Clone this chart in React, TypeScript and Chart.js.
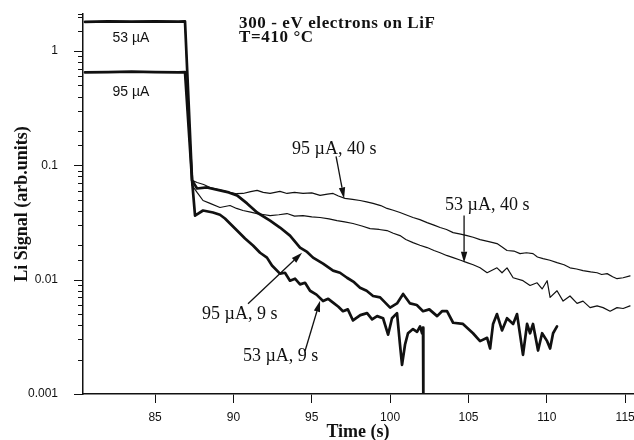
import React, { useEffect, useRef } from 'react';
import { Chart, registerables } from 'chart.js';
Chart.register(...registerables);

const xMin = 80.4;
const xMax = 115.5;
const yMin = 0.001;
const yMax = 2.11;
const xTickValues = [85, 90, 95, 100, 105, 110, 115];

// 53 µA, 9 s (thick)
const t53_9 = [80.53, 82.0, 83.5, 85.0, 86.5, 86.91, 87.36, 87.55, 88.06, 88.7, 89.14, 89.46, 89.78, 90.23, 90.74, 91.25, 91.7, 92.14, 92.46, 92.97, 93.29, 93.61, 93.93, 94.25, 94.57, 94.89, 95.3, 95.72, 96.05, 96.36, 96.7, 96.99, 97.3, 97.63, 98.1, 98.53, 98.85, 99.17, 99.55, 99.87, 100.12, 100.44, 100.63, 100.76, 100.95, 101.14, 101.46, 101.72, 101.91, 102.04, 102.1, 102.12];
const v53_9 = [1.80, 1.82, 1.81, 1.82, 1.81, 1.82, 0.074, 0.0364, 0.0403, 0.0387, 0.037, 0.0343, 0.031, 0.0269, 0.0229, 0.0199, 0.0172, 0.0156, 0.0133, 0.0113, 0.0115, 0.0098, 0.0102, 0.0091, 0.0094, 0.0080, 0.0074, 0.0065, 0.0068, 0.0063, 0.0058, 0.0053, 0.0055, 0.0044, 0.0049, 0.0051, 0.0045, 0.0048, 0.0046, 0.0033, 0.0046, 0.0051, 0.0027, 0.0018, 0.0027, 0.0034, 0.0037, 0.0035, 0.0039, 0.0034, 0.0038, 0.0008];

// 95 µA, 9 s (thick)
const t95_9 = [80.53, 82.0, 83.5, 85.0, 86.5, 86.91, 87.36, 87.68, 88.31, 89.14, 89.7, 90.23, 90.87, 91.51, 92.34, 92.97, 93.61, 94.25, 94.7, 95.08, 95.72, 96.36, 96.8, 97.25, 97.7, 98.08, 98.5, 98.91, 99.36, 100.0, 100.44, 100.83, 101.27, 101.7, 102.1, 102.5, 103.0, 103.31, 103.63, 104.02, 104.65, 105.29, 105.74, 106.19, 106.38, 106.57, 106.82, 107.14, 107.46, 107.85, 108.1, 108.48, 108.74, 108.93, 109.12, 109.44, 109.7, 110.02, 110.21, 110.4, 110.65];
const v95_9 = [0.65, 0.655, 0.66, 0.655, 0.65, 0.655, 0.0739, 0.0628, 0.0641, 0.0604, 0.058, 0.0546, 0.0465, 0.0387, 0.0329, 0.0286, 0.0243, 0.0191, 0.0175, 0.0156, 0.0138, 0.0120, 0.0115, 0.0104, 0.0095, 0.0085, 0.0080, 0.0072, 0.0070, 0.0057, 0.0062, 0.0075, 0.0062, 0.0060, 0.0053, 0.0055, 0.0048, 0.0053, 0.0053, 0.0042, 0.0041, 0.0034, 0.0029, 0.0031, 0.0025, 0.0041, 0.0050, 0.0036, 0.0046, 0.0041, 0.0050, 0.0022, 0.0041, 0.0034, 0.0041, 0.0024, 0.0034, 0.0029, 0.0025, 0.0034, 0.0039];

// 95 µA, 40 s (thin)
const t95_40 = [80.53, 82.0, 83.5, 85.0, 86.5, 86.91, 87.36, 87.68, 88.1, 88.51, 89.1, 89.78, 90.2, 90.61, 91.1, 91.51, 91.9, 92.34, 92.97, 93.42, 93.9, 94.44, 95.0, 95.53, 96.0, 96.36, 96.7, 97.12, 97.6, 98.08, 98.5, 98.91, 99.4, 99.8, 100.2, 100.63, 101.0, 101.46, 101.9, 102.36, 102.8, 103.19, 103.6, 104.02, 104.5, 104.91, 105.3, 105.74, 106.3, 106.82, 107.1, 107.46, 107.9, 108.29, 108.7, 109.12, 109.4, 109.76, 110.2, 110.65, 111.1, 111.48, 111.9, 112.31, 112.8, 113.21, 113.5, 113.85, 114.2, 114.48, 114.87, 115.31];
const v95_40 = [0.65, 0.655, 0.66, 0.655, 0.65, 0.655, 0.0739, 0.0709, 0.068, 0.0641, 0.061, 0.058, 0.0565, 0.0568, 0.059, 0.0604, 0.058, 0.0568, 0.0592, 0.0568, 0.058, 0.0568, 0.0575, 0.0546, 0.056, 0.0568, 0.054, 0.0514, 0.0505, 0.0493, 0.048, 0.0465, 0.0445, 0.0420, 0.0405, 0.0387, 0.037, 0.0350, 0.0335, 0.0316, 0.030, 0.0286, 0.0275, 0.0258, 0.025, 0.0243, 0.0235, 0.0224, 0.0215, 0.0207, 0.0195, 0.0180, 0.0178, 0.0169, 0.0172, 0.0169, 0.0158, 0.0153, 0.0148, 0.0141, 0.0135, 0.0127, 0.0124, 0.0120, 0.0117, 0.0115, 0.0111, 0.0113, 0.0106, 0.0102, 0.0104, 0.0108];

// 53 µA, 40 s (thin)
const t53_40 = [80.53, 82.0, 83.5, 85.0, 86.5, 86.91, 87.36, 87.68, 88.06, 88.51, 89.14, 89.78, 90.2, 90.61, 91.1, 91.51, 91.9, 92.34, 92.9, 93.42, 93.9, 94.44, 95.0, 95.53, 96.1, 96.61, 97.1, 97.63, 98.2, 98.72, 99.3, 99.8, 100.2, 100.63, 101.0, 101.46, 101.9, 102.36, 102.8, 103.19, 103.6, 104.02, 104.5, 104.91, 105.3, 105.74, 106.19, 106.82, 107.14, 107.46, 107.85, 108.48, 108.93, 109.38, 109.7, 110.02, 110.21, 110.65, 111.04, 111.48, 111.93, 112.31, 112.76, 113.21, 113.59, 114.04, 114.48, 114.87, 115.31];
const v53_40 = [1.80, 1.82, 1.81, 1.82, 1.81, 1.82, 0.067, 0.058, 0.0493, 0.0465, 0.0428, 0.0446, 0.042, 0.0403, 0.039, 0.0379, 0.0372, 0.0364, 0.037, 0.0379, 0.036, 0.0364, 0.0355, 0.0350, 0.034, 0.0329, 0.032, 0.0310, 0.0295, 0.0280, 0.0275, 0.0269, 0.0255, 0.0243, 0.0225, 0.0211, 0.020, 0.0191, 0.018, 0.0172, 0.0163, 0.0156, 0.0148, 0.0141, 0.0135, 0.0127, 0.0115, 0.0127, 0.0115, 0.0127, 0.0104, 0.0098, 0.0089, 0.0094, 0.0083, 0.0098, 0.0070, 0.0080, 0.0065, 0.0072, 0.0062, 0.0065, 0.0057, 0.0059, 0.0057, 0.0053, 0.0057, 0.0056, 0.0059];

// level labels inside the plot (sans)
const levelText = ['53 µA', '95 µA'];
const levelX = [83.46, 83.46];
const levelY = [1.30, 0.437];

// title block (bold serif), baselines
const titleLines = ['300 - eV electrons on LiF', 'T=410 °C'];
const titleX = 90.36;
const titleY = [1.59, 1.2];

// curve annotations
const noteText = ['95 µA, 40 s', '53 µA, 40 s', '95 µA, 9 s', '53 µA, 9 s'];
const noteX = [93.74, 103.51, 88.0, 90.61];
const noteY = [0.138, 0.0446, 0.00503, 0.00215];
const arrowFromX = [96.55, 104.72, 90.93, 94.57];
const arrowFromY = [0.12, 0.0364, 0.00615, 0.00238];
const arrowToX = [97.06, 104.72, 94.38, 95.53];
const arrowToY = [0.0514, 0.0141, 0.0172, 0.00654];

const INK = '#111';

function pts(t: number[], v: number[]) {
  return t.map((x, i) => ({ x, y: v[i] }));
}

const overlay = {
  id: 'overlay',
  afterDraw(chart: any) {
    const { ctx, scales } = chart;
    const x = scales.x;
    const y = scales.y;
    ctx.save();
    ctx.strokeStyle = INK;
    ctx.lineWidth = 1;
    y.ticks.forEach((t: any) => {
      const lg = Math.log10(t.value);
      const major = Math.abs(lg - Math.round(lg)) < 1e-6;
      const len = major ? 9 : 5;
      const py = Math.round(y.getPixelForValue(t.value)) + 0.5;
      ctx.beginPath();
      ctx.moveTo(y.right - len, py);
      ctx.lineTo(y.right, py);
      ctx.stroke();
    });
    ctx.fillStyle = INK;
    ctx.font = '14px "Liberation Sans", Arial, sans-serif';
    ctx.textAlign = 'center';
    ctx.textBaseline = 'middle';
    levelText.forEach((s, i) => {
      ctx.fillText(s, x.getPixelForValue(levelX[i]), y.getPixelForValue(levelY[i]));
    });
    ctx.font = 'bold 17px "Liberation Serif", "Times New Roman", serif';
    ctx.textAlign = 'left';
    ctx.textBaseline = 'alphabetic';
    try { (ctx as any).letterSpacing = '0.6px'; } catch (e) {}
    titleLines.forEach((s, i) => {
      ctx.fillText(s, x.getPixelForValue(titleX), y.getPixelForValue(titleY[i]));
    });
    try { (ctx as any).letterSpacing = '0px'; } catch (e) {}
    ctx.font = '18px "Liberation Serif", "Times New Roman", serif';
    ctx.textBaseline = 'middle';
    noteText.forEach((s, i) => {
      ctx.fillText(s, x.getPixelForValue(noteX[i]), y.getPixelForValue(noteY[i]));
    });
    ctx.lineWidth = 1.3;
    noteText.forEach((_, i) => {
      const x0 = x.getPixelForValue(arrowFromX[i]);
      const y0 = y.getPixelForValue(arrowFromY[i]);
      const x1 = x.getPixelForValue(arrowToX[i]);
      const y1 = y.getPixelForValue(arrowToY[i]);
      const ang = Math.atan2(y1 - y0, x1 - x0);
      const hl = 11;
      const hw = 3.2;
      const bx = x1 - hl * Math.cos(ang);
      const by = y1 - hl * Math.sin(ang);
      ctx.beginPath();
      ctx.moveTo(x0, y0);
      ctx.lineTo(bx, by);
      ctx.stroke();
      ctx.beginPath();
      ctx.moveTo(x1, y1);
      ctx.lineTo(bx + hw * Math.sin(ang), by - hw * Math.cos(ang));
      ctx.lineTo(bx - hw * Math.sin(ang), by + hw * Math.cos(ang));
      ctx.closePath();
      ctx.fill();
    });
    ctx.restore();
  },
};

export default function App() {
  const ref = useRef<HTMLCanvasElement>(null);
  useEffect(() => {
    if (!ref.current) return;
    const thick = 2.7;
    const thin = 1.2;
    const ds = (label: string, t: number[], v: number[], w: number) => ({
      label,
      data: pts(t, v),
      borderColor: INK,
      backgroundColor: INK,
      borderWidth: w,
      pointRadius: 0,
      tension: 0,
      fill: false,
      borderJoinStyle: 'round' as const,
      borderCapStyle: 'round' as const,
    });
    const chart = new Chart(ref.current, {
      type: 'line',
      data: {
        datasets: [
          ds('95 µA, 40 s', t95_40, v95_40, thin),
          ds('53 µA, 40 s', t53_40, v53_40, thin),
          ds('95 µA, 9 s', t95_9, v95_9, thick),
          ds('53 µA, 9 s', t53_9, v53_9, thick),
        ],
      },
      options: {
        responsive: false,
        animation: false,
        parsing: false as any,
        normalized: true,
        layout: { padding: { top: 14, right: 1, left: 0, bottom: 0 } },
        plugins: { legend: { display: false }, tooltip: { enabled: false } },
        scales: {
          x: {
            type: 'linear',
            min: xMin,
            max: xMax,
            afterBuildTicks: (s: any) => {
              s.ticks = xTickValues.map((v) => ({ value: v }));
            },
            afterFit: (s: any) => {
              s.height = 46;
              s.paddingLeft = 0;
              s.paddingRight = 0;
            },
            grid: {
              display: true,
              drawOnChartArea: false,
              drawTicks: true,
              tickLength: 9,
              color: INK,
              lineWidth: 1,
            },
            border: { display: true, color: INK, width: 1.5 },
            ticks: {
              padding: 7,
              color: INK,
              autoSkip: false,
              maxRotation: 0,
              font: { family: '"Liberation Sans", Arial, sans-serif', size: 12 },
              callback: (v: any) => String(v),
            },
            title: {
              display: true,
              text: 'Time (s)',
              color: INK,
              font: { family: '"Liberation Serif", "Times New Roman", serif', size: 18, weight: 'bold', lineHeight: 1 },
              padding: { top: 0, bottom: -1 },
            },
          },
          y: {
            type: 'logarithmic',
            min: yMin,
            max: yMax,
            afterFit: (s: any) => {
              s.width = 83;
              s.paddingTop = 0;
              s.paddingBottom = 0;
            },
            grid: { display: false },
            border: { display: true, color: INK, width: 1.5 },
            ticks: {
              padding: 17,
              color: INK,
              autoSkip: false,
              font: { family: '"Liberation Sans", Arial, sans-serif', size: 12 },
              callback: (v: any) => {
                const n = Number(v);
                const lg = Math.log10(n);
                if (Math.abs(lg - Math.round(lg)) > 1e-6) return '';
                return n >= 1 ? '1' : String(Number(n.toPrecision(1)));
              },
            },
            title: {
              display: true,
              text: 'Li Signal (arb.units)',
              color: INK,
              font: { family: '"Liberation Serif", "Times New Roman", serif', size: 18, weight: 'bold', lineHeight: 1 },
              padding: { top: 13, bottom: 0 },
            },
          },
        },
      },
      plugins: [overlay],
    });
    return () => chart.destroy();
  }, []);
  return (
    <div style={{ position: 'fixed', left: 0, top: 0, width: 634, height: 440, background: '#fff' }}>
      <canvas ref={ref} width={634} height={440} style={{ display: 'block' }} />
    </div>
  );
}
